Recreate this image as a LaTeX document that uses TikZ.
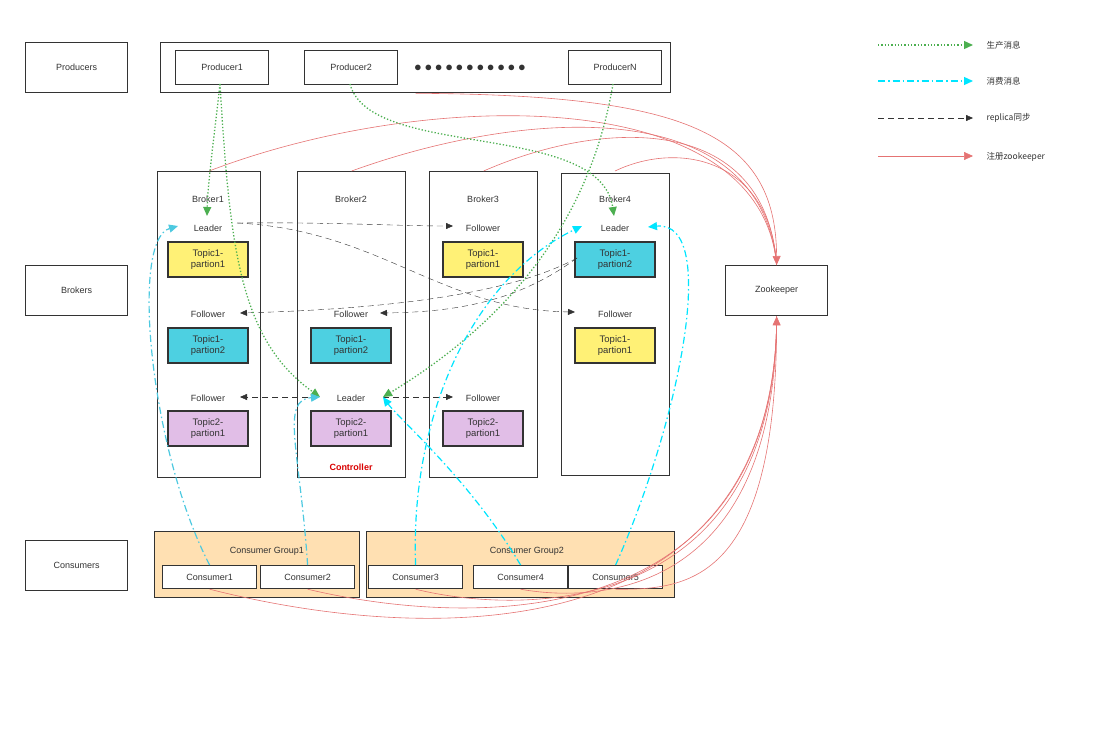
\documentclass[tikz,border=0pt]{standalone}
\usepackage{fontspec}
\setmainfont{Liberation Sans}
\newfontfamily\cjk{Noto Sans CJK SC}
\usetikzlibrary{arrows.meta}
\definecolor{gr}{HTML}{4CAF50}
\definecolor{cy}{HTML}{00E5FF}
\definecolor{cyl}{HTML}{4DC9E0}
\definecolor{rd}{HTML}{E57373}
\definecolor{yl}{HTML}{FFF176}
\definecolor{bl}{HTML}{4DD0E1}
\definecolor{pu}{HTML}{E1BEE7}
\definecolor{or}{HTML}{FFE0B2}
\definecolor{dk}{HTML}{333333}
\begin{document}
\begin{tikzpicture}[x=1pt,y=-1pt,font=\fontsize{9}{10}\selectfont,
 box/.style={draw=dk,line width=1.3pt,fill=white},
 tb/.style={draw=dk,line width=1.2pt,minimum width=80pt,minimum height=35pt,align=center,inner sep=0pt,font=\fontsize{9.5}{11}\selectfont,text=dk},
 lb/.style={text=dk,inner sep=1pt},
 prod/.style={draw=gr,line width=1.3pt,dotted,-{Triangle[length=9pt,width=8pt]}},
 cons/.style={draw=#1,line width=1.2pt,dash pattern=on 7pt off 3pt on 1.5pt off 3pt,-{Triangle[length=9pt,width=8pt]}},
 rep/.style={draw=dk,dash pattern=on 6pt off 4pt,-{Triangle[length=7pt,width=6pt]}},
 reg/.style={draw=rd,line width=0.6pt},
 rega/.style={reg,-{Triangle[length=9pt,width=8pt]}}]
\useasboundingbox (0,0) rectangle (1117,731);
% side labels
\node[box,minimum width=102pt,minimum height=50pt,anchor=north west,text=dk] (lp) at (25,42) {Producers};
\node[box,minimum width=102pt,minimum height=50pt,anchor=north west,text=dk] (lb) at (25,265) {Brokers};
\node[box,minimum width=102pt,minimum height=50pt,anchor=north west,text=dk] (lc) at (25,540) {Consumers};
% producers
\node[box,minimum width=510pt,minimum height=50pt,anchor=north west] (pc) at (160,42) {};
\node[box,minimum width=93pt,minimum height=34pt,anchor=north west,text=dk] (p1) at (175,50) {Producer1};
\node[box,minimum width=93pt,minimum height=34pt,anchor=north west,text=dk] (p2) at (304,50) {Producer2};
\node[box,minimum width=93pt,minimum height=34pt,anchor=north west,text=dk] (pn) at (568,50) {ProducerN};
\node[text=dk,font=\fontsize{14}{14}\selectfont] (dots) at (470,68) {$\bullet\bullet\bullet\bullet\bullet\bullet\bullet\bullet\bullet\bullet\bullet$};
% brokers
\node[box,minimum width=103pt,minimum height=306pt,anchor=north west] (b1) at (157,171) {};
\node[box,minimum width=108pt,minimum height=306pt,anchor=north west] (b2) at (297,171) {};
\node[box,minimum width=108pt,minimum height=306pt,anchor=north west] (b3) at (429,171) {};
\node[box,minimum width=108pt,minimum height=302pt,anchor=north west] (b4) at (561,173) {};
\node[lb] (b1t) at (208,199) {Broker1};
\node[lb] (b2t) at (351,199) {Broker2};
\node[lb] (b3t) at (483,199) {Broker3};
\node[lb] (b4t) at (615,199) {Broker4};
\node[lb] (l1) at (208,228) {Leader};
\node[tb,fill=yl] (t11) at (208,259.5) {Topic1-\\partion1};
\node[lb] (f12) at (208,314) {Follower};
\node[tb,fill=bl] (t12) at (208,345.5) {Topic1-\\partion2};
\node[lb] (f13) at (208,398) {Follower};
\node[tb,fill=pu] (t13) at (208,428.5) {Topic2-\\partion1};
\node[lb] (f22) at (351,314) {Follower};
\node[tb,fill=bl] (t22) at (351,345.5) {Topic1-\\partion2};
\node[lb] (l23) at (351,398) {Leader};
\node[tb,fill=pu] (t23) at (351,428.5) {Topic2-\\partion1};
\node[text=red!85!black,font=\fontsize{9}{10}\selectfont\bfseries] (ctl) at (351,467) {Controller};
\node[lb] (f31) at (483,228) {Follower};
\node[tb,fill=yl] (t31) at (483,259.5) {Topic1-\\partion1};
\node[lb] (f33) at (483,398) {Follower};
\node[tb,fill=pu] (t33) at (483,428.5) {Topic2-\\partion1};
\node[lb] (l41) at (615,228) {Leader};
\node[tb,fill=bl] (t41) at (615,259.5) {Topic1-\\partion2};
\node[lb] (f42) at (615,314) {Follower};
\node[tb,fill=yl] (t42) at (615,345.5) {Topic1-\\partion1};
% zookeeper
\node[box,minimum width=102pt,minimum height=50pt,anchor=north west,text=dk] (zk) at (725,265) {Zookeeper};
% consumers
\node[box,fill=or,minimum width=205pt,minimum height=66pt,anchor=north west] (g1) at (154,531) {};
\node[box,fill=or,minimum width=308pt,minimum height=66pt,anchor=north west] (g2) at (366,531) {};
\node[lb] (g1t) at (267,551) {Consumer Group1};
\node[lb] (g2t) at (527,551) {Consumer Group2};
\tikzset{cb/.style={draw=dk,line width=1.2pt,fill=white,minimum width=94pt,minimum height=23pt,anchor=north west,text=dk,inner sep=0pt}}
\node[cb] (c1) at (162,565) {Consumer1};
\node[cb] (c2) at (260,565) {Consumer2};
\node[cb] (c3) at (368,565) {Consumer3};
\node[cb] (c4) at (473,565) {Consumer4};
\node[cb] (c5) at (568,565) {Consumer5};
% coordinates
\coordinate (p1b) at (220,84);
\coordinate (p2b) at (350,84);
\coordinate (pnb) at (613,84);
\coordinate (l1t) at (207,216);
\coordinate (l1l) at (178,226);
\coordinate (l1r) at (237,223);
\coordinate (l23l) at (320,397);
\coordinate (l23r) at (383,397);
\coordinate (l41t) at (614,216);
\coordinate (l41l) at (582,226);
\coordinate (l41r) at (648,227);
\coordinate (f12r) at (240,313);
\coordinate (f22r) at (380,313);
\coordinate (f31l) at (453,226);
\coordinate (f42l) at (575,312);
\coordinate (f13r) at (240,397);
\coordinate (f33l) at (453,397);
\coordinate (t41l) at (577,258);
% red registrations
\draw[reg] (b1.north) ++(0,0) .. controls (420,90) and (760,80) .. (zk.north);
\draw[reg] (b2.north) .. controls (520,110) and (760,90) .. (zk.north);
\draw[reg] (b3.north) .. controls (600,120) and (765,110) .. (zk.north);
\draw[reg] (615,171) .. controls (680,140) and (770,160) .. (zk.north);
\draw[rega] (pc.south) .. controls (680,95) and (776,130) .. (zk.north);
\draw[reg] (c1.south) .. controls (450,650) and (776,640) .. (zk.south);
\draw[reg] (c2.south) .. controls (480,630) and (776,630) .. (zk.south);
\draw[reg] (c3.south) .. controls (520,615) and (776,620) .. (zk.south);
\draw[reg] (c4.south) .. controls (580,600) and (776,610) .. (zk.south);
\draw[rega] (c5.south) .. controls (690,590) and (776,580) .. (zk.south);
% replica
\draw[rep] (l1r) .. controls (330,222) and (400,226) .. (f31l);
\draw[rep] (l1r) .. controls (380,230) and (440,310) .. (f42l);
\draw[rep] (t41l) .. controls (500,300) and (350,310) .. (f12r);
\draw[rep] (t41l) .. controls (520,300) and (460,312) .. (f22r);
\draw[rep] (308,397) -- (f13r);
\draw[rep] (l23r) -- (f33l);
% producing
\draw[prod] (p1b) .. controls (215,130) and (208,180) .. (l1t);
\draw[prod] (p1b) .. controls (230,250) and (240,340) .. (l23l);
\draw[prod] (p2b) .. controls (370,160) and (600,120) .. (l41t);
\draw[prod] (pnb) .. controls (600,160) and (560,290) .. (l23r);
% consuming
\draw[cons=cyl] (c1.north) .. controls (150,450) and (130,240) .. (l1l);
\draw[cons=cyl] (c2.north) .. controls (300,450) and (280,400) .. (l23l);
\draw[cons=cy] (c3.north) .. controls (410,420) and (470,280) .. (l41l);
\draw[cons=cy] (c4.north) .. controls (470,480) and (400,420) .. (l23r);
\draw[cons=cy] (c5.north) .. controls (680,420) and (720,220) .. (l41r);
% legend
\coordinate (a1) at (878,45); \coordinate (a2) at (973,45);
\draw[prod] (a1) -- (a2);
\node[anchor=west,font=\cjk\fontsize{8.5}{10}\selectfont,text=dk] (lg1) at (983,45) {生产消息};
\coordinate (b1a) at (878,81); \coordinate (b2a) at (973,81);
\draw[cons=cy] (b1a) -- (b2a);
\node[anchor=west,font=\cjk\fontsize{8.5}{10}\selectfont,text=dk] (lg2) at (983,81) {消费消息};
\coordinate (c1a) at (878,118); \coordinate (c2a) at (973,118);
\draw[rep] (c1a) -- (c2a);
\node[anchor=west,font=\cjk\fontsize{8.5}{10}\selectfont,text=dk] (lg3) at (983,118) {replica同步};
\coordinate (d1a) at (878,156); \coordinate (d2a) at (973,156);
\draw[rega] (d1a) -- (d2a);
\node[anchor=west,font=\cjk\fontsize{8.5}{10}\selectfont,text=dk] (lg4) at (983,157) {注册zookeeper};
\end{tikzpicture}
\end{document}
